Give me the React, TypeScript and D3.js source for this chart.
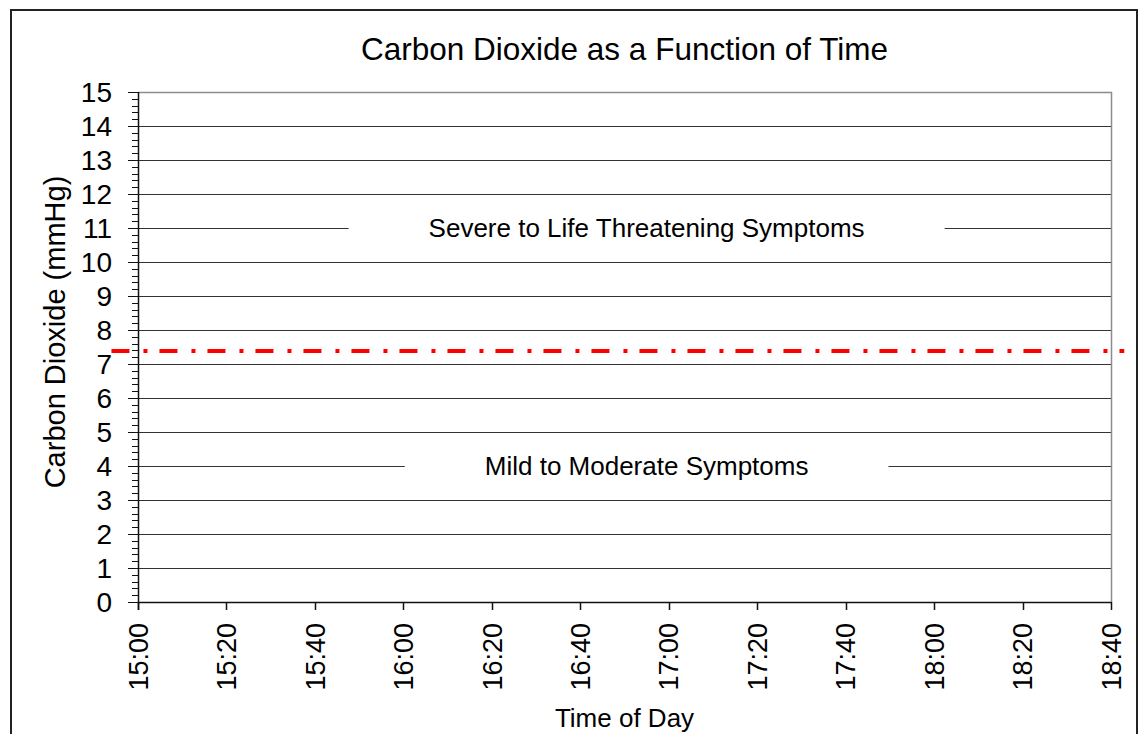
import React, { useEffect, useRef } from 'react';
import * as d3 from 'd3';

// axis ticks
const yTickValues = [0, 1, 2, 3, 4, 5, 6, 7, 8, 9, 10, 11, 12, 13, 14, 15];
const timeTickLabels = ['15:00', '15:20', '15:40', '16:00', '16:20', '16:40', '17:00', '17:20', '17:40', '18:00', '18:20', '18:40'];

// red threshold line (mmHg) and the times it runs between
const thresholdValue = 7.38;
const thresholdTimes = ['14:54', '18:43'];

// zone labels, placed on a gridline
const zoneLabels = ['Severe to Life Threatening Symptoms', 'Mild to Moderate Symptoms'];
const zoneValues = [11, 4];
const zoneTimes = ['16:55', '16:55'];

const FONT = 'Liberation Sans, Arial, sans-serif';

const App = () => {
  const ref = useRef<SVGSVGElement | null>(null);

  useEffect(() => {
    if (!ref.current) return;
    const svg = d3.select(ref.current);
    svg.selectAll('*').remove();

    const parse = d3.timeParse('%H:%M');
    const left = 138, right = 1111, top = 92, bottom = 602;

    const x = d3.scaleTime()
      .domain([parse(timeTickLabels[0])!, parse(timeTickLabels[timeTickLabels.length - 1])!])
      .range([left, right]);
    const y = d3.scaleLinear().domain([0, 15]).range([bottom, top]);

    // outer frame
    svg.append('rect')
      .attr('x', 11).attr('y', 10)
      .attr('width', 1126).attr('height', 760)
      .attr('fill', 'white').attr('stroke', '#222').attr('stroke-width', 2);

    // gridlines
    svg.append('g')
      .selectAll('line')
      .data(yTickValues.filter(d => d > 0 && d < 15))
      .enter()
      .append('line')
        .attr('x1', left).attr('x2', right)
        .attr('y1', d => Math.round(y(d)) + 0.5).attr('y2', d => Math.round(y(d)) + 0.5)
        .attr('stroke', '#333').attr('stroke-width', 1);

    // plot frame top/right
    svg.append('path')
      .attr('d', `M${left},${top + 0.5}H${right + 0.5}V${bottom}`)
      .attr('fill', 'none').attr('stroke', '#8c8c8c').attr('stroke-width', 1.5);

    // zone labels with white boxes behind them
    zoneLabels.forEach((label, i) => {
      const cx = x(parse(zoneTimes[i])!);
      const cy = y(zoneValues[i]);
      const g = svg.append('g');
      const box = g.append('rect').attr('fill', 'white');
      const t = g.append('text')
        .attr('x', cx).attr('y', cy).attr('dy', '0.35em')
        .attr('text-anchor', 'middle')
        .style('font-family', FONT).style('font-size', '26px')
        .text(label);
      const w = (t.node() as SVGTextElement).getComputedTextLength();
      box.attr('x', cx - w / 2 - 80).attr('width', w + 160)
        .attr('y', cy - 14).attr('height', 28);
    });

    // y axis
    const yAxis = svg.append('g');
    yAxis.append('line')
      .attr('x1', left + 0.5).attr('x2', left + 0.5)
      .attr('y1', top).attr('y2', bottom + 8)
      .attr('stroke', '#111').attr('stroke-width', 1.5);
    yAxis.selectAll('.minor')
      .data(d3.range(0, 15.001, 0.2))
      .enter()
      .append('line')
        .attr('x1', left - 6).attr('x2', left)
        .attr('y1', d => Math.round(y(d)) + 0.5).attr('y2', d => Math.round(y(d)) + 0.5)
        .attr('stroke', '#111');
    yAxis.selectAll('.major')
      .data(yTickValues)
      .enter()
      .append('line')
        .attr('x1', left - 10).attr('x2', left)
        .attr('y1', d => Math.round(y(d)) + 0.5).attr('y2', d => Math.round(y(d)) + 0.5)
        .attr('stroke', '#111');
    yAxis.selectAll('text')
      .data(yTickValues)
      .enter()
      .append('text')
        .attr('x', 112).attr('y', d => y(d)).attr('dy', '0.36em')
        .attr('text-anchor', 'end')
        .style('font-family', FONT).style('font-size', '28px')
        .text(d => d);

    // x axis
    const xAxis = svg.append('g');
    xAxis.append('line')
      .attr('x1', left).attr('x2', right)
      .attr('y1', bottom + 0.5).attr('y2', bottom + 0.5)
      .attr('stroke', '#111').attr('stroke-width', 1.5);
    xAxis.selectAll('line.tick')
      .data(timeTickLabels)
      .enter()
      .append('line')
        .attr('x1', d => Math.round(x(parse(d)!)) + 0.5).attr('x2', d => Math.round(x(parse(d)!)) + 0.5)
        .attr('y1', bottom).attr('y2', bottom + 8)
        .attr('stroke', '#111').attr('stroke-width', 1.5);
    xAxis.selectAll('text')
      .data(timeTickLabels)
      .enter()
      .append('text')
        .attr('transform', d => `translate(${x(parse(d)!)},${623}) rotate(-90)`)
        .attr('dy', '0.36em')
        .attr('text-anchor', 'end')
        .style('font-family', FONT).style('font-size', '27px')
        .text(d => d);

    // threshold line
    const line = d3.line<{ t: Date; v: number }>()
      .x(d => x(d.t))
      .y(d => y(d.v));
    svg.append('path')
      .datum(thresholdTimes.map(t => ({ t: parse(t)!, v: thresholdValue })))
      .attr('d', line)
      .attr('fill', 'none')
      .attr('stroke', '#ff0000')
      .attr('stroke-width', 4)
      .attr('stroke-dasharray', '18,14,4,12');

    // titles
    svg.append('text')
      .attr('x', (left + right) / 2).attr('y', 60)
      .attr('text-anchor', 'middle')
      .style('font-family', FONT).style('font-size', '31.5px')
      .text('Carbon Dioxide as a Function of Time');

    svg.append('text')
      .attr('x', (left + right) / 2).attr('y', 727)
      .attr('text-anchor', 'middle')
      .style('font-family', FONT).style('font-size', '26px')
      .text('Time of Day');

    svg.append('text')
      .attr('transform', `translate(65,332) rotate(-90)`)
      .attr('text-anchor', 'middle')
      .style('font-family', FONT).style('font-size', '29px')
      .text('Carbon Dioxide (mmHg)');
  }, []);

  return (
    <svg
      ref={ref}
      width={1142}
      height={734}
      style={{ position: 'absolute', left: 0, top: 0, background: 'white' }}
    />
  );
};

export default App;
